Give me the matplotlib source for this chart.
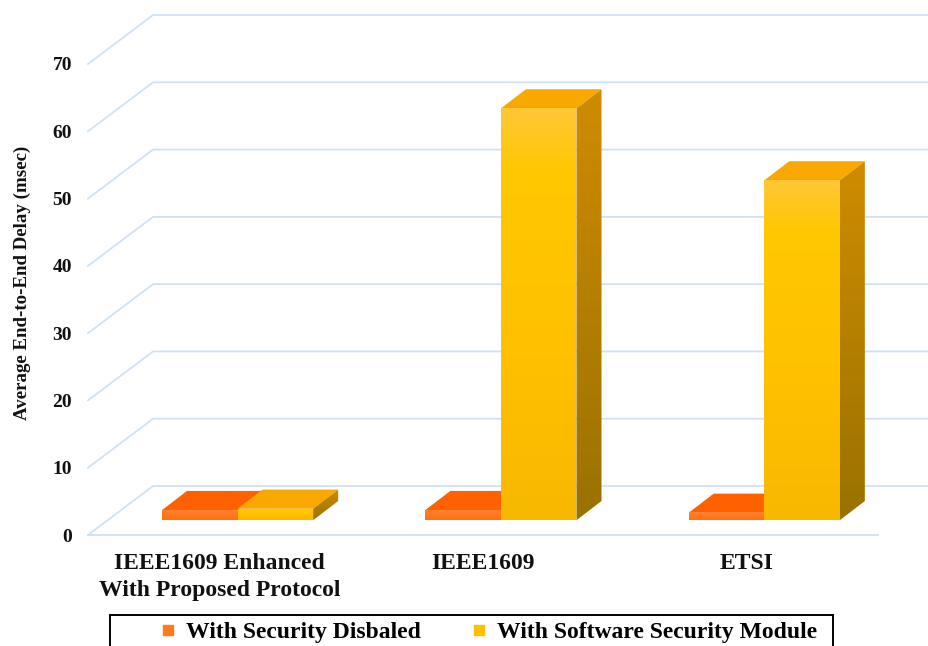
import matplotlib
matplotlib.use("Agg")
import matplotlib.pyplot as plt
import numpy as np
from matplotlib.colors import LinearSegmentedColormap
from matplotlib.lines import Line2D
from matplotlib.patches import Polygon, Rectangle

categories = ["IEEE1609 Enhanced\nWith Proposed Protocol", "IEEE1609", "ETSI"]
series_names = ["With Security Disbaled", "With Software Security Module"]
security_disabled = [1.5, 1.5, 1.1]
software_module = [1.7, 61.2, 50.5]
y_ticks = [0, 10, 20, 30, 40, 50, 60, 70]

W, H = 929, 646
SERIF = "Liberation Serif"
GRID = "#cfe2f5"

# 3D look, in data units: floor depth, bar depth, shift of the bars off the front plane
FLOOR_DX, FLOOR_DY = 0.247, 7.28
BAR_DX, BAR_DY = 0.095, 2.85
SHIFT_DX, SHIFT_DY = 0.068, 2.2
BAR_W = 0.287


def gradient(ax, poly, colors, bottom, top):
    """Vertical gradient fill clipped to a polygon, colors listed from the top down."""
    cmap = LinearSegmentedColormap.from_list("g", colors)
    xs = [p[0] for p in poly]
    im = ax.imshow(np.linspace(0, 1, 128).reshape(-1, 1), cmap=cmap, aspect="auto",
                   extent=(min(xs), max(xs), bottom, top), origin="upper", zorder=3)
    patch = Polygon(poly, closed=True, transform=ax.transData, fc="none", ec="none")
    ax.add_patch(patch)
    im.set_clip_path(patch)


def draw_bar(ax, x0, val, front, side, top):
    x1 = x0 + BAR_W
    y0 = SHIFT_DY
    y1 = y0 + val
    # the top and side go first, the front face overlaps what sits behind it
    ax.add_patch(Polygon([(x0, y1), (x1, y1), (x1 + BAR_DX, y1 + BAR_DY), (x0 + BAR_DX, y1 + BAR_DY)],
                         fc=top, ec="none", zorder=3))
    if side is not None:
        gradient(ax, [(x1, y0), (x1 + BAR_DX, y0 + BAR_DY), (x1 + BAR_DX, y1 + BAR_DY), (x1, y1)],
                 side, y0, y1 + BAR_DY)
    gradient(ax, [(x0, y0), (x1, y0), (x1, y1), (x0, y1)], front, y0, y1)


fig = plt.figure(figsize=(W / 100, H / 100), dpi=100)
ax = fig.add_axes([88 / W, 1 - 535 / H, 790 / W, 471 / H])
ax.set_xlim(-0.5, 2.5)
ax.set_ylim(0, 70)

# floor and back wall grid
for v in y_ticks:
    ax.plot([-0.5, -0.5 + FLOOR_DX, 2.5 + FLOOR_DX], [v, v + FLOOR_DY, v + FLOOR_DY],
            color=GRID, lw=1.3, clip_on=False, zorder=1)
ax.plot([-0.5, 2.5], [0, 0], color=GRID, lw=1.3, clip_on=False, zorder=1)

yellow_front = [(0, "#ffc735"), (0.15, "#ffc800"), (0.6, "#ffc000"), (1, "#f8b800")]
yellow_side = ["#cf8c00", "#9a7200"]
orange_front = ["#ff8430", "#ff7010"]
for i in range(len(categories)):
    x_left = i + SHIFT_DX - BAR_W
    draw_bar(ax, x_left, security_disabled[i], orange_front, None, "#ff6000")
    draw_bar(ax, x_left + BAR_W, software_module[i], yellow_front, yellow_side, "#f9a800")

ax.set_xlim(-0.5, 2.5)
ax.set_ylim(0, 70)
ax.set_xticks(range(len(categories)))
ax.set_xticklabels(categories, fontfamily=SERIF, fontweight="bold", fontsize=17, color="#111111",
                   linespacing=1.4)
ax.set_yticks(y_ticks)
ax.set_yticklabels(y_ticks, fontfamily=SERIF, fontweight="bold", fontsize=14, color="#111111")
ax.tick_params(axis="both", length=0)
ax.tick_params(axis="x", pad=13)
ax.tick_params(axis="y", pad=11.5)
for s in ax.spines.values():
    s.set_visible(False)
ax.patch.set_visible(False)

fig.text(22 / W, 1 - 283 / H, "Average End-to-End Delay (msec)", rotation=90, ha="center", va="center",
         fontfamily=SERIF, fontweight="bold", fontsize=13.6, color="#111111")

# legend box runs past the bottom edge of the figure
fig.add_artist(Rectangle((110 / W, -0.02), 723 / W, 0.02 + (646 - 615) / H, transform=fig.transFigure,
                         fc="white", ec="black", lw=1.4))
handles = [Line2D([], [], ls="none", marker="s", ms=7.5, color=c) for c in ("#ff7a1a", "#ffc000")]
fig.legend(handles, series_names, loc="center", bbox_to_anchor=(0.5245, 1 - 632 / H), ncol=2, frameon=False,
           prop={"family": SERIF, "weight": "bold", "size": 17}, columnspacing=2.04, handlelength=0.9,
           handletextpad=0.3)

fig.savefig("out.png", dpi=100)
